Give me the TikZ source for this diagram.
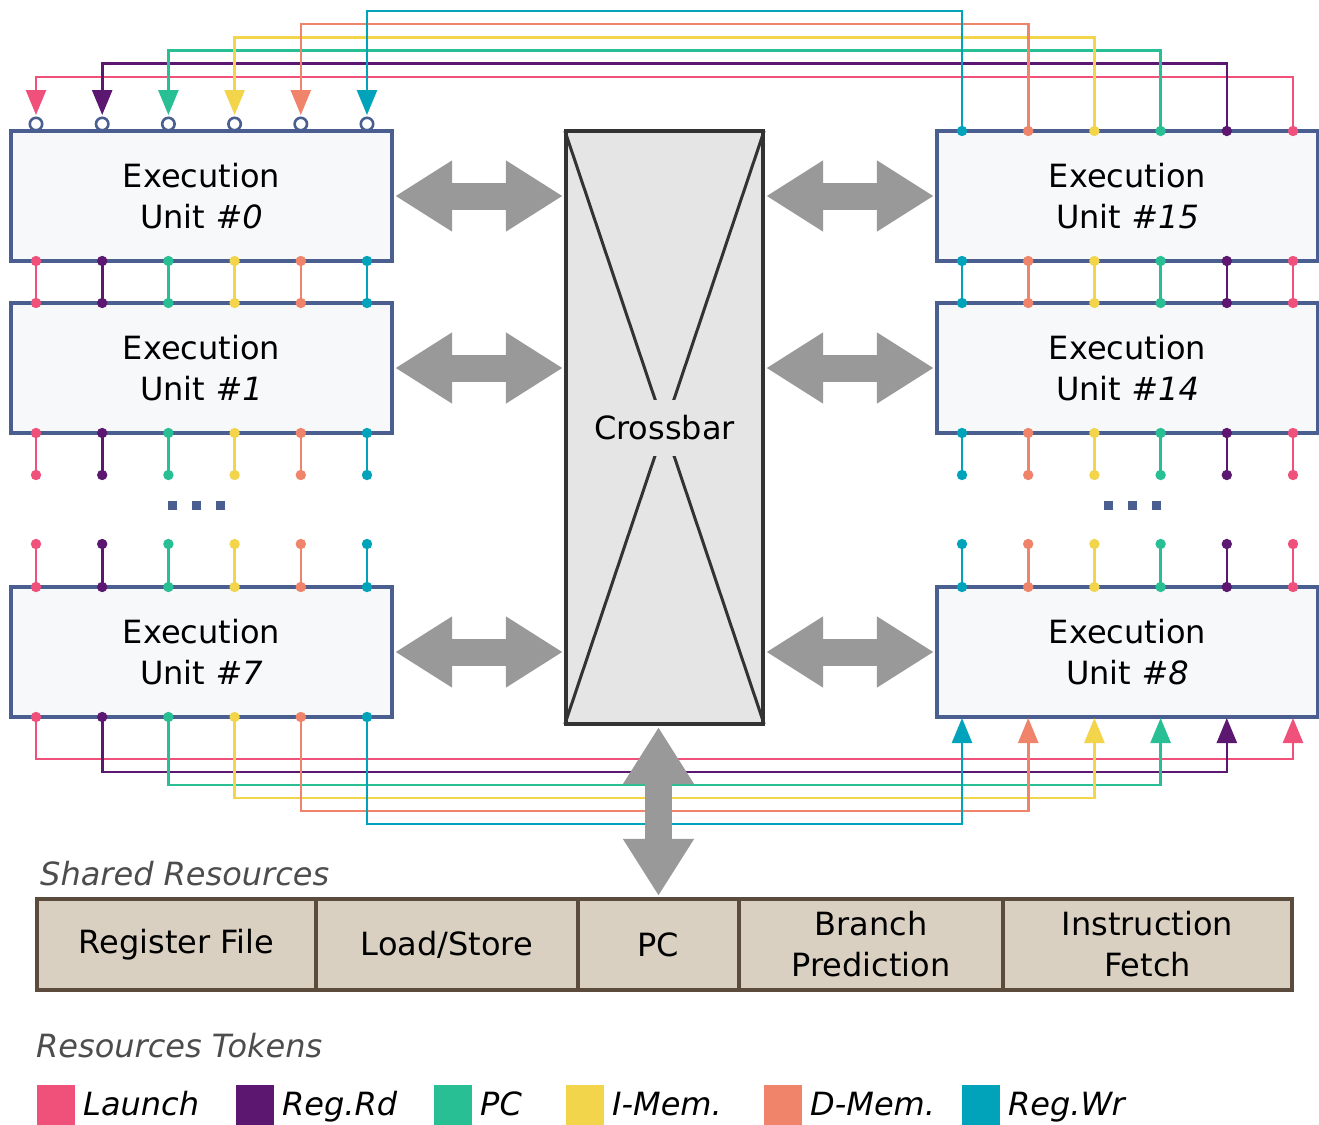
\documentclass[tikz,border=0pt]{standalone}
\usepackage{xcolor}
\usepackage{fontspec}
\setmainfont{DejaVu Sans}
\usepackage{tikz}
\usetikzlibrary{arrows.meta}

\definecolor{launch}{HTML}{F0517B}
\definecolor{regrd}{HTML}{5C1770}
\definecolor{pctok}{HTML}{27BF93}
\definecolor{imem}{HTML}{F2D54B}
\definecolor{dmem}{HTML}{F0846A}
\definecolor{regwr}{HTML}{00A3B9}
\definecolor{unitedge}{HTML}{4A5E8F}
\definecolor{unitfill}{HTML}{F7F8FA}
\definecolor{xbaredge}{HTML}{333333}
\definecolor{xbarfill}{HTML}{E5E5E5}
\definecolor{resedge}{HTML}{5B4B3D}
\definecolor{resfill}{HTML}{D9D0C1}
\definecolor{arrowgray}{HTML}{999999}
\definecolor{headgray}{HTML}{4D4D4D}

\begin{document}
\begin{tikzpicture}[
		x=1pt, y=-1pt,
		font=\fontsize{32}{41}\selectfont,
		unit/.style={rectangle, draw=unitedge, fill=unitfill, line width=3.2pt, minimum width=381pt, minimum height=130pt, align=center},
		xbarbox/.style={rectangle, draw=xbaredge, fill=xbarfill, line width=3.2pt, minimum width=197pt, minimum height=593pt},
		res/.style={rectangle, draw=resedge, fill=resfill, line width=3.2pt, minimum height=91pt, align=center},
		wire/.style={line width=2.6pt},
		tokarrow/.style={-{Triangle[length=25pt, width=20pt]}},
		bigarrow/.style={draw=arrowgray, line width=27pt, {Triangle[length=57pt, width=67pt]}-{Triangle[length=57pt, width=67pt]}, shorten <=1.5pt, shorten >=1.5pt},
		heading/.style={anchor=base west, inner sep=0pt, text=headgray, font=\fontsize{32}{41}\selectfont\itshape},
		legend/.style={anchor=base west, inner sep=0pt, font=\fontsize{32}{41}\selectfont\itshape}
	]
		\useasboundingbox[fill=white] (0,0) rectangle (1319,1124);
		
		% Execution units
		\node[unit] (eu0) at (201.5,196) {Execution\\Unit \textit{\#0}};
		\node[unit] (eu1) at (201.5,368) {Execution\\Unit \textit{\#1}};
		\node[unit] (eu7) at (201.5,652) {Execution\\Unit \textit{\#7}};
		\node[unit] (eu15) at (1127.5,196) {Execution\\Unit \textit{\#15}};
		\node[unit] (eu14) at (1127.5,368) {Execution\\Unit \textit{\#14}};
		\node[unit] (eu8) at (1127.5,652) {Execution\\Unit \textit{\#8}};
		
		% Crossbar
		\node[xbarbox] (xbar) at (664.5,427.5) {};
		\draw[xbaredge, line width=3pt, shorten <=1.5pt, shorten >=1.5pt] (xbar.north west) -- (xbar.south east);
		\draw[xbaredge, line width=3pt, shorten <=1.5pt, shorten >=1.5pt] (xbar.north east) -- (xbar.south west);
		\node[fill=xbarfill, minimum height=56pt] (xlabel) at (xbar) {Crossbar};
		
		% Shared resources
		\node[res, minimum width=279pt] (rf) at (176.5,944.5) {Register File};
		\node[res, minimum width=262pt] (ls) at (447,944.5) {Load/Store};
		\node[res, minimum width=161pt] (pc) at (658.5,944.5) {PC};
		\node[res, minimum width=264pt] (bp) at (871,944.5) {Branch\\Prediction};
		\node[res, minimum width=289pt] (ifetch) at (1147.5,944.5) {Instruction\\Fetch};
		
		% Token ports and wires
		\foreach \c [count=\i from 0] in {launch,regrd,pctok,imem,dmem,regwr} {
			\pgfmathsetmacro{\xl}{36+66.2*\i}
			\pgfmathsetmacro{\xr}{1293-66.2*\i}
			\coordinate (eu0-in\i) at (\xl,115);
			\coordinate (eu0-bot\i) at (\xl,261);
			\coordinate (eu1-top\i) at (\xl,303);
			\coordinate (eu1-bot\i) at (\xl,433);
			\coordinate (eu1-end\i) at (\xl,475);
			\coordinate (eu7-beg\i) at (\xl,544);
			\coordinate (eu7-top\i) at (\xl,587);
			\coordinate (eu7-bot\i) at (\xl,717);
			\coordinate (eu15-top\i) at (\xr,131);
			\coordinate (eu15-bot\i) at (\xr,261);
			\coordinate (eu14-top\i) at (\xr,303);
			\coordinate (eu14-bot\i) at (\xr,433);
			\coordinate (eu14-end\i) at (\xr,475);
			\coordinate (eu8-beg\i) at (\xr,544);
			\coordinate (eu8-top\i) at (\xr,587);
			\coordinate (eu8-in\i) at (\xr,718);
			
			% ring back over the top and under the bottom
			\draw[wire, \c, tokarrow] (eu15-top\i) -- ++(0,{-54-13.2*\i}) -| (eu0-in\i);
			\draw[wire, \c, tokarrow] (eu7-bot\i) -- ++(0,{42+13*\i}) -| (eu8-in\i);
			
			% stubs between units
			\draw[wire, \c] (eu0-bot\i) -- (eu1-top\i) (eu1-bot\i) -- (eu1-end\i) (eu7-beg\i) -- (eu7-top\i);
			\draw[wire, \c] (eu15-bot\i) -- (eu14-top\i) (eu14-bot\i) -- (eu14-end\i) (eu8-beg\i) -- (eu8-top\i);
			\foreach \p in {eu0-bot,eu1-top,eu1-bot,eu1-end,eu7-beg,eu7-top,eu7-bot,eu15-top,eu15-bot,eu14-top,eu14-bot,eu14-end,eu8-beg,eu8-top}
				\fill[\c] (\p\i) circle (5.2pt);
			\draw[unitedge, fill=white, line width=2.6pt] (\xl,124) circle (6.2pt);
		}
		
		% Dots
		\foreach \x in {172,196,220,1108,1132,1156}
			\fill[unitedge] (\x-4.5,500.5) rectangle ++(9,9);
		
		% Big arrows
		\draw[bigarrow] (eu0.east) -- (eu0.east -| xbar.west);
		\draw[bigarrow] (eu1.east) -- (eu1.east -| xbar.west);
		\draw[bigarrow] (eu7.east) -- (eu7.east -| xbar.west);
		\draw[bigarrow] (xbar.east |- eu15.west) -- (eu15.west);
		\draw[bigarrow] (xbar.east |- eu14.west) -- (eu14.west);
		\draw[bigarrow] (xbar.east |- eu8.west) -- (eu8.west);
		\draw[bigarrow] (pc.north |- xbar.south) -- (pc.north);
		
		% Labels
		\node[heading] (shared) at (40,885) {Shared Resources};
		\node[heading] (tokens) at (36,1057) {Resources Tokens};
		\foreach \c/\x/\t in {launch/37/Launch, regrd/236/Reg.Rd, pctok/434/PC, imem/566/I-Mem., dmem/764/D-Mem., regwr/962/Reg.Wr} {
			\fill[\c] (\x,1085) rectangle ++(38,45);
			\node[legend] (lg-\c) at (\x+46,1115) {\t};
		}
	\end{tikzpicture}
\end{document}
